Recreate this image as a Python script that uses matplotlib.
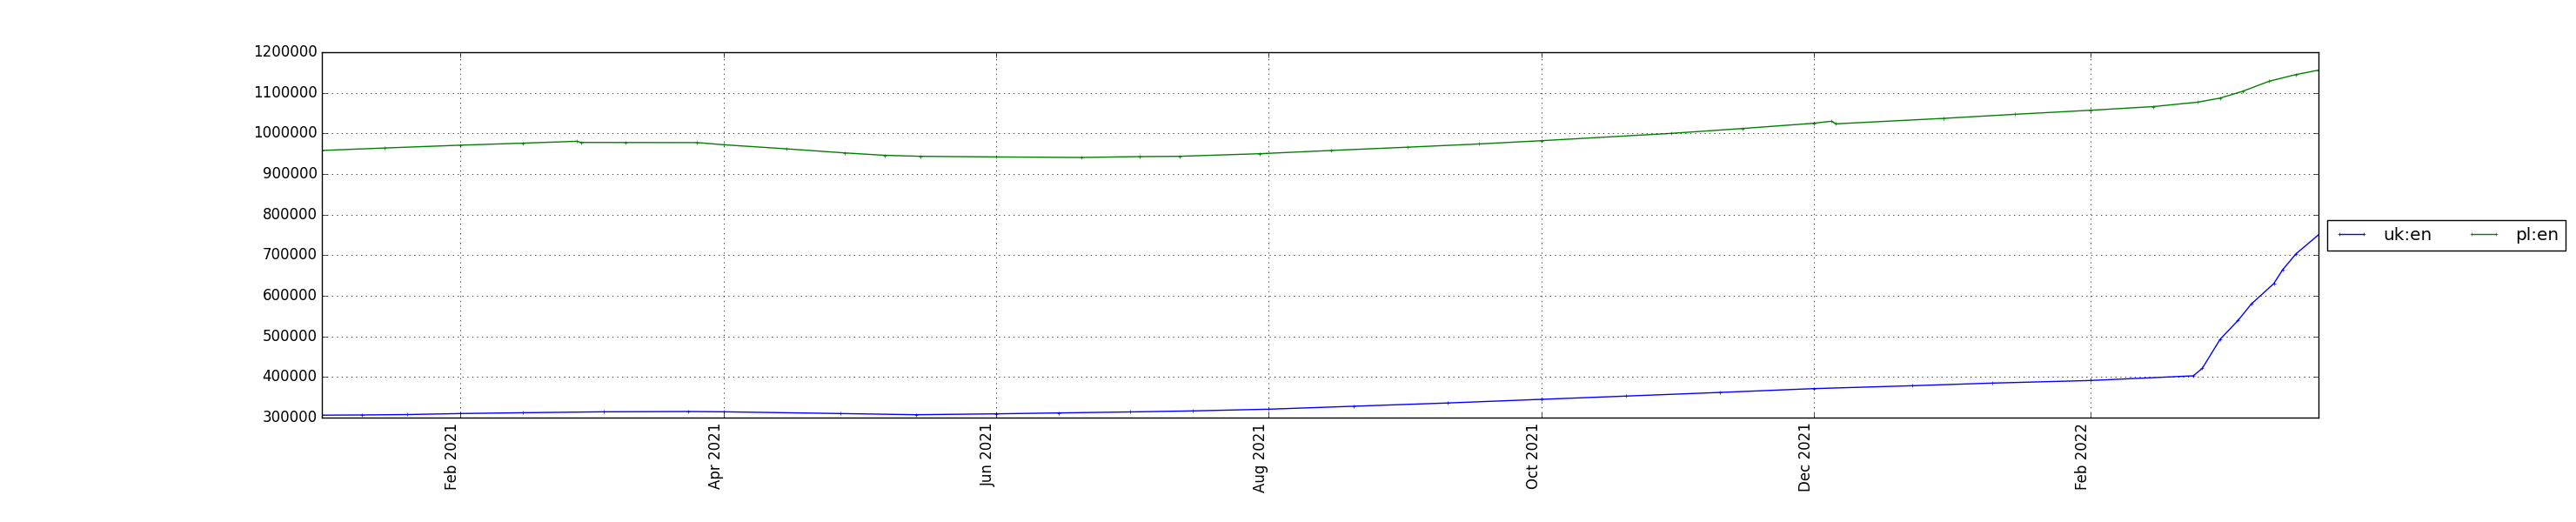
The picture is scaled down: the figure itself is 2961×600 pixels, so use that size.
import matplotlib
matplotlib.use('Agg')
import matplotlib.pyplot as plt
import matplotlib.dates as mdates
import pandas as pd

# uk:en series
uk_dates = ['2021-01-01', '2021-01-10', '2021-01-20', '2021-02-01', '2021-02-15',
            '2021-03-05', '2021-03-24', '2021-04-01', '2021-04-27', '2021-05-14',
            '2021-06-01', '2021-06-15', '2021-07-01', '2021-07-15', '2021-08-01',
            '2021-08-20', '2021-09-10', '2021-10-01', '2021-10-20', '2021-11-10',
            '2021-12-01', '2021-12-23', '2022-01-10', '2022-02-01', '2022-02-24',
            '2022-02-26', '2022-03-02', '2022-03-06', '2022-03-09', '2022-03-14',
            '2022-03-16', '2022-03-19', '2022-03-24']
uk_values = [306000, 306500, 307500, 310000, 312000,
             314300, 315000, 314300, 310000, 307100,
             309300, 311500, 314000, 316500, 320700,
             328000, 336000, 345000, 353000, 362000,
             371400, 378500, 385000, 391400, 402900,
             421400, 492900, 539300, 580000, 630000,
             664300, 703600, 750000]

# pl:en series
pl_dates = ['2021-01-01', '2021-01-15', '2021-02-01', '2021-02-15', '2021-02-27',
            '2021-02-28', '2021-03-10', '2021-03-26', '2021-04-01', '2021-04-15',
            '2021-04-28', '2021-05-07', '2021-05-15', '2021-06-01', '2021-06-20',
            '2021-07-03', '2021-07-12', '2021-07-30', '2021-08-15', '2021-09-01',
            '2021-09-17', '2021-10-01', '2021-10-30', '2021-11-15', '2021-12-01',
            '2021-12-05', '2021-12-06', '2021-12-30', '2022-01-15', '2022-02-01',
            '2022-02-15', '2022-02-25', '2022-03-02', '2022-03-07', '2022-03-13',
            '2022-03-19', '2022-03-24']
pl_values = [958000, 964000, 971000, 976000, 980500,
             977800, 977600, 977400, 972000, 962000,
             952000, 946000, 943600, 942000, 940700,
             942900, 943600, 950000, 958000, 966000,
             974000, 982000, 1000000, 1012000, 1025000,
             1030000, 1023600, 1037000, 1047000, 1057000,
             1066000, 1077000, 1087000, 1103600, 1128600,
             1145000, 1155700]

plt.style.use('classic')
fig = plt.figure(figsize=(29.61, 6), dpi=100)
ax = fig.add_subplot(111)

ax.plot(pd.to_datetime(uk_dates), uk_values, color='b', marker='+', markersize=3, label='uk:en')
ax.plot(pd.to_datetime(pl_dates), pl_values, color='g', marker='+', markersize=3, label='pl:en')

ax.xaxis.set_major_locator(mdates.MonthLocator(bymonth=[2, 4, 6, 8, 10, 12]))
ax.xaxis.set_major_formatter(mdates.DateFormatter('%b %Y'))
ax.set_ylim(300000, 1200000)
ax.grid(True)
fig.autofmt_xdate(rotation=90)

ax.legend(loc='center left', bbox_to_anchor=(1, 0.5), ncol=2)

fig.savefig('out.png', dpi=100)
